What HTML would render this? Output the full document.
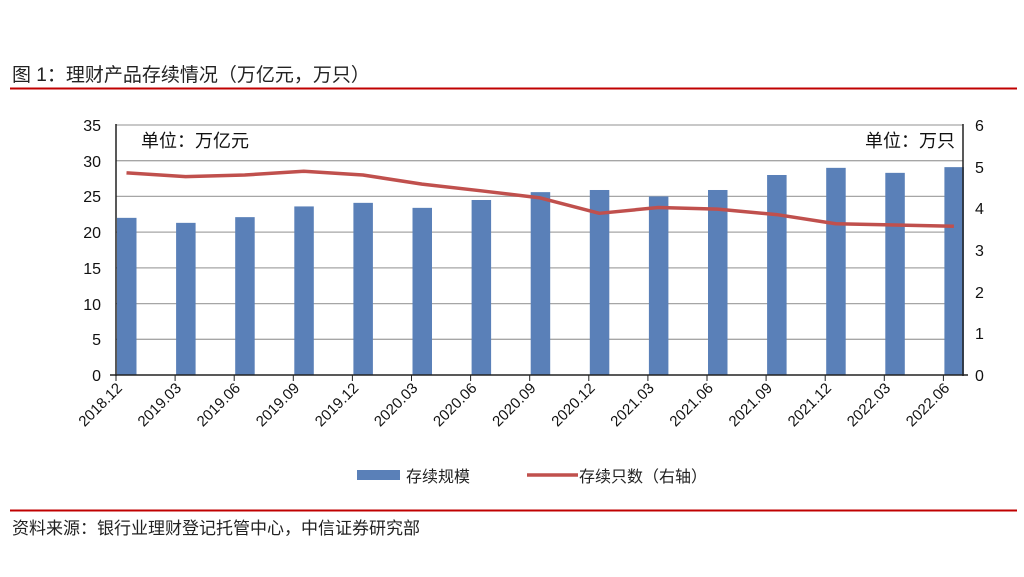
<!DOCTYPE html>
<html><head><meta charset="utf-8"><style>
body{margin:0;background:#fff;}
svg{display:block;font-family:"Liberation Sans","Noto Sans CJK SC",sans-serif;}
</style></head><body>
<svg width="1024" height="577" viewBox="0 0 1024 577" xmlns="http://www.w3.org/2000/svg">
<text x="12" y="81" font-size="19" fill="#222">图 1：理财产品存续情况（万亿元，万只）</text>
<line x1="10" y1="88.5" x2="1017" y2="88.5" stroke="#c00000" stroke-width="2"/>
<g stroke="#a6a6a6" stroke-width="1.3">
<line x1="116" y1="125" x2="963" y2="125"/>
<line x1="116" y1="160.7" x2="963" y2="160.7"/>
<line x1="116" y1="196.4" x2="963" y2="196.4"/>
<line x1="116" y1="232.1" x2="963" y2="232.1"/>
<line x1="116" y1="267.9" x2="963" y2="267.9"/>
<line x1="116" y1="303.6" x2="963" y2="303.6"/>
<line x1="116" y1="339.3" x2="963" y2="339.3"/>
</g>
<rect x="135" y="127" width="160" height="28" fill="#fff"/>
<rect x="825" y="127" width="136" height="28" fill="#fff"/>
<text x="141" y="147" font-size="18" fill="#111">单位：万亿元</text>
<text x="955" y="147" font-size="18" fill="#111" text-anchor="end">单位：万只</text>
<g fill="#5a80b8" id="bars"></g>
<polyline id="ln" fill="none" stroke="#c0504d" stroke-width="3.5" stroke-linejoin="round"/>
<g stroke="#222" stroke-width="1.5">
<line x1="116" y1="124" x2="116" y2="376"/>
<line x1="963" y1="124" x2="963" y2="376"/>
<line x1="110" y1="375" x2="968" y2="375"/>
</g>
<g id="ticks" stroke="#222" stroke-width="1"></g>
<g font-size="16" fill="#111" text-anchor="end" id="ly">
<text x="101" y="131">35</text><text x="101" y="167">30</text><text x="101" y="202">25</text><text x="101" y="238">20</text><text x="101" y="274">15</text><text x="101" y="310">10</text><text x="101" y="345">5</text><text x="101" y="381">0</text>
</g>
<g font-size="16" fill="#111" id="ry">
<text x="975" y="131">6</text><text x="975" y="173">5</text><text x="975" y="214">4</text><text x="975" y="256">3</text><text x="975" y="298">2</text><text x="975" y="339">1</text><text x="975" y="381">0</text>
</g>
<g id="xl" font-size="15" fill="#111" text-anchor="end"></g>
<rect x="357" y="470" width="43" height="10" fill="#5a80b8"/>
<text x="406" y="482" font-size="16" fill="#222">存续规模</text>
<line x1="527" y1="475" x2="578" y2="475" stroke="#c0504d" stroke-width="3.5"/>
<text x="579" y="482" font-size="16" fill="#222">存续只数（右轴）</text>
<line x1="10" y1="510.5" x2="1017" y2="510.5" stroke="#c00000" stroke-width="2"/>
<text x="12" y="534" font-size="17" fill="#222">资料来源：银行业理财登记托管中心，中信证券研究部</text>
</svg>
<script>
var labs=["2018.12","2019.03","2019.06","2019.09","2019.12","2020.03","2020.06","2020.09","2020.12","2021.03","2021.06","2021.09","2021.12","2022.03","2022.06"];
var b=[22.0,21.3,22.1,23.6,24.1,23.4,24.5,25.6,25.9,25.0,25.9,28.0,29.0,28.3,29.1];
var l=[4.85,4.76,4.80,4.89,4.80,4.58,4.42,4.25,3.88,4.02,3.98,3.85,3.63,3.60,3.57];
var ns="http://www.w3.org/2000/svg",pts=[];
for(var i=0;i<15;i++){var x=116+59.1*i;
var r=document.createElementNS(ns,"rect");var h=b[i]*7.143;
r.setAttribute("x",x+1);r.setAttribute("y",375-h);r.setAttribute("width",19.5);r.setAttribute("height",h);
document.getElementById("bars").appendChild(r);
pts.push((x+10.5)+","+(375-l[i]*41.67));
var t=document.createElementNS(ns,"line");t.setAttribute("x1",x);t.setAttribute("x2",x);t.setAttribute("y1",375);t.setAttribute("y2",381);
document.getElementById("ticks").appendChild(t);
var tx=document.createElementNS(ns,"text");tx.setAttribute("transform","translate("+(x+7)+",389) rotate(-45)");tx.textContent=labs[i];
document.getElementById("xl").appendChild(tx);}
document.getElementById("ln").setAttribute("points",pts.join(" "));
</script>
</body></html>
